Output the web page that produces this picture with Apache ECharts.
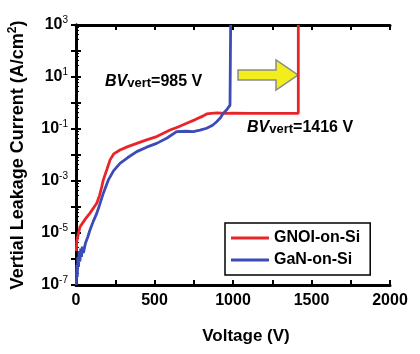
<!DOCTYPE html>
<html>
<head>
<meta charset="utf-8">
<script src="https://cdn.jsdelivr.net/npm/echarts@6/dist/echarts.min.js"></script>
<style>
html, body { margin: 0; padding: 0; background: #fff; }
#chart { width: 420px; height: 354px; }
</style>
</head>
<body>
<div id="chart"></div>
<script>
// GNOI-on-Si (red)
var gnoi_v = [2, 5, 25, 60, 89, 132, 150, 164, 174, 195, 217, 240, 280, 330, 387, 450, 514, 560, 599, 650, 705, 760, 811, 832, 860, 900, 950, 1000, 1100, 1200, 1300, 1416, 1416];
var gnoi_i = [2e-6, 5e-6, 1.7e-5, 3.5e-5, 5.8e-5, 1.4e-4, 2.8e-4, 6e-4, 1.1e-3, 2.6e-3, 6.5e-3, 1.1e-2, 1.55e-2, 2.1e-2, 2.8e-2, 3.8e-2, 5.1e-2, 7e-2, 9.1e-2, 0.12, 0.166, 0.23, 0.32, 0.38, 0.40, 0.42, 0.40, 0.41, 0.40, 0.40, 0.40, 0.40, 1000];
// GaN-on-Si (blue)
var gan_v = [2, 5, 8, 12, 16, 20, 25, 30, 35, 40, 47, 60, 75, 89, 110, 132, 150, 174, 206, 240, 280, 330, 387, 450, 514, 580, 641, 700, 747, 790, 832, 870, 896, 920, 938, 960, 981, 985];
var gan_i = [1e-7, 6e-7, 2e-7, 1.2e-6, 5e-7, 2e-6, 8e-7, 2.5e-6, 1.2e-6, 3e-6, 1.7e-6, 4e-6, 7e-6, 1.3e-5, 2.8e-5, 5.7e-5, 1.2e-4, 3.4e-4, 1.1e-3, 2.5e-3, 4.8e-3, 8e-3, 1.35e-2, 2e-2, 2.8e-2, 4.5e-2, 7.9e-2, 8.2e-2, 7.9e-2, 9e-2, 0.107, 0.14, 0.19, 0.27, 0.40, 0.55, 0.83, 1000];

var x_ticks = [0, 500, 1000, 1500, 2000];
var y_exps = [3, 1, -1, -3, -5, -7];

var FONT = 'Liberation Sans';

function pairs(xs, ys){
	var out = [];
	for (var i = 0; i < xs.length; i++) out.push([xs[i], ys[i]]);
	return out;
}

var my_chart = echarts.init(document.getElementById('chart'), null, {renderer: 'canvas'});

var axis_line = {show: true, lineStyle: {color: '#000', width: 3}};
var tick_in = {show: true, inside: true, length: 5, lineStyle: {color: '#000', width: 2}};

my_chart.setOption({
	animation: false,
	backgroundColor: '#fff',
	grid: {left: 76, right: 30, top: 25, bottom: 69, containLabel: false, outerBoundsMode: 'none'},
	legend: {
		orient: 'vertical',
		left: 225, top: 223,
		width: 147,
		padding: [7, 10, 7, 6],
		itemGap: 6,
		itemWidth: 38, itemHeight: 3,
		borderColor: '#000', borderWidth: 1.5,
		backgroundColor: '#fff',
		icon: 'rect',
		textStyle: {fontFamily: FONT, fontWeight: 'bold', fontSize: 16, color: '#000'},
		data: ['GNOI-on-Si', 'GaN-on-Si']
	},
	xAxis: [
		{
			type: 'value', min: 0, max: 2000, interval: 250,
			axisLine: axis_line, axisTick: tick_in, splitLine: {show: false},
			axisLabel: {
				margin: 8, color: '#000', fontFamily: FONT, fontWeight: 'bold', fontSize: 16,
				formatter: function(v){ return x_ticks.indexOf(v) >= 0 ? String(v) : ''; }
			},
			name: 'Voltage (V)', nameLocation: 'middle', nameGap: 43,
			nameTextStyle: {color: '#000', fontFamily: FONT, fontWeight: 'bold', fontSize: 17, padding: [0, 0, 0, 26]}
		},
		{
			type: 'value', min: 0, max: 2000, interval: 250, position: 'top',
			axisLine: axis_line, axisTick: tick_in, axisLabel: {show: false}, splitLine: {show: false}
		}
	],
	yAxis: [
		{
			type: 'log', logBase: 10, min: 1e-7, max: 1e3, interval: 1,
			axisLine: axis_line, axisTick: tick_in, splitLine: {show: false},
			minorTick: {show: true, splitNumber: 5, length: 3, lineStyle: {color: '#000', width: 1}},
			axisLabel: {
				margin: 8, color: '#000', showMinLabel: true, showMaxLabel: true,
				formatter: function(v){
					var e = Math.round(Math.log10(v));
					if (y_exps.indexOf(e) < 0) return '';
					return '{b|10}{s|' + e + '}';
				},
				rich: {
					b: {fontFamily: FONT, fontWeight: 'bold', fontSize: 16, color: '#000'},
					s: {fontFamily: FONT, fontSize: 10, color: '#000', padding: [0, 0, 9, 0]}
				}
			},
			name: '{a|Vertial Leakage Current (A/cm}{s|2}{a|)}',
			nameLocation: 'middle', nameGap: 47, nameRotate: 90,
			nameTextStyle: {
				rich: {
					a: {fontFamily: FONT, fontWeight: 'bold', fontSize: 18, color: '#000'},
					s: {fontFamily: FONT, fontWeight: 'bold', fontSize: 12, color: '#000', padding: [0, 0, 10, 0]}
				}
			}
		},
		{
			type: 'log', logBase: 10, min: 1e-7, max: 1e3, interval: 1, position: 'right',
			axisLine: axis_line, axisTick: tick_in, axisLabel: {show: false}, splitLine: {show: false}
		}
	],
	series: [
		{
			name: 'GNOI-on-Si', type: 'line', xAxisIndex: 0, yAxisIndex: 0,
			data: pairs(gnoi_v, gnoi_i), showSymbol: false, symbol: 'none',
			lineStyle: {color: '#e8262a', width: 2.8}, itemStyle: {color: '#e8262a'}
		},
		{
			name: 'GaN-on-Si', type: 'line', xAxisIndex: 0, yAxisIndex: 0,
			data: pairs(gan_v, gan_i), showSymbol: false, symbol: 'none',
			lineStyle: {color: '#3b4cb8', width: 2.8}, itemStyle: {color: '#3b4cb8'}
		}
	],
	graphic: [
		{
			type: 'text', left: 105, top: 74,
			style: {
				text: '{i|BV}{v|vert}{n|=985 V}',
				rich: {
					i: {fontFamily: FONT, fontWeight: 'bold', fontStyle: 'italic', fontSize: 16, fill: '#000'},
					v: {fontFamily: FONT, fontWeight: 'bold', fontSize: 13, fill: '#000', verticalAlign: 'bottom'},
					n: {fontFamily: FONT, fontWeight: 'bold', fontSize: 16, fill: '#000'}
				}
			}
		},
		{
			type: 'text', left: 247, top: 120,
			style: {
				text: '{i|BV}{v|vert}{n|=1416 V}',
				rich: {
					i: {fontFamily: FONT, fontWeight: 'bold', fontStyle: 'italic', fontSize: 16, fill: '#000'},
					v: {fontFamily: FONT, fontWeight: 'bold', fontSize: 13, fill: '#000', verticalAlign: 'bottom'},
					n: {fontFamily: FONT, fontWeight: 'bold', fontSize: 16, fill: '#000'}
				}
			}
		},
		{
			type: 'polygon',
			shape: {points: [[238, 70], [276, 70], [276, 60], [298, 75], [276, 90], [276, 80], [238, 80]]},
			style: {fill: '#f2ee1c', stroke: '#8a8a8a', lineWidth: 1.5}
		}
	]
});
</script>
</body>
</html>
